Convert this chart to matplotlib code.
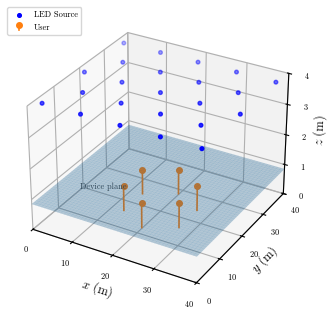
import numpy as np
import matplotlib
matplotlib.use('Agg')
import matplotlib.pyplot as plt
from matplotlib.legend_handler import HandlerBase
from matplotlib.lines import Line2D

plt.rcParams['font.family'] = 'serif'
plt.rcParams['font.serif'] = ['cmr10']
plt.rcParams['mathtext.fontset'] = 'cm'
plt.rcParams['axes.formatter.use_mathtext'] = True

# LED grid (staggered rows) near the ceiling
led_main_x = [1.2, 10.6, 20.0, 29.4, 38.8]
led_main_y = [36.3, 20.0, 3.7]
led_mid_x = [5.9, 15.3, 24.7, 34.1]
led_mid_y = [28.1, 11.9]
led_z = 3.9

# users on the device plane (hexagon around the room centre)
user_x = [26.9, 20.0, 13.1, 13.1, 20.0, 26.9]
user_y = [24.0, 28.0, 24.0, 16.0, 12.0, 16.0]
user_z = [0.85, 0.85, 0.85, 0.85, 0.85, 0.85]
plane_z = 0.85

room = [0, 40]
ticks_xy = [0, 10, 20, 30, 40]
ticks_z = [0, 1, 2, 3, 4]


class StemHandler(HandlerBase):
    """Legend entry: small marker sitting on a short stem."""
    def create_artists(self, legend, orig, xd, yd, w, h, fontsize, trans):
        cx = w / 2 - xd
        top = h * 0.75 - yd
        stem = Line2D([cx, cx], [-yd, top], color='C1', lw=1.2,
                      transform=trans)
        mark = Line2D([cx], [top], marker='o', ms=4, color='C1', ls='',
                      transform=trans)
        return [stem, mark]


mx, my = np.meshgrid(led_main_x, led_main_y)
sx, sy = np.meshgrid(led_mid_x, led_mid_y)
led_x = np.concatenate([mx.ravel(), sx.ravel()])
led_y = np.concatenate([my.ravel(), sy.ravel()])

fig = plt.figure(figsize=(3.33, 3.13), dpi=100)
ax = fig.add_axes([0.005, 0.038, 0.93, 0.93], projection='3d')

leds = ax.scatter(led_x, led_y, np.full(len(led_x), led_z), color='blue',
                  s=7, label='LED Source')
markers, stems, _ = ax.stem(user_x, user_y, user_z, bottom=0, linefmt='C1-',
                            markerfmt='C1o', basefmt=' ')
markers.set_markersize(4)
stems.set_linewidth(1.2)

gx, gy = np.meshgrid(np.linspace(*room, 50), np.linspace(*room, 50))
ax.plot_surface(gx, gy, np.full_like(gx, plane_z), color='C0', alpha=0.3,
                edgecolor=(0.12, 0.47, 0.71, 0.25), linewidth=0.08)
ax.text(5, 11, plane_z, 'Device plane', fontsize=6, color='0.25', va='center')

ax.set_xlim(*room)
ax.set_ylim(*room)
ax.set_zlim(ticks_z[0], ticks_z[-1])
ax.set_xticks(ticks_xy)
ax.set_yticks(ticks_xy)
ax.set_zticks(ticks_z)
ax.tick_params(labelsize=6, pad=0)
ax.set_xlabel('$x$ (m)', fontsize=9, labelpad=-4)
ax.set_ylabel('$y$ (m)', fontsize=9, labelpad=-6)
ax.set_zlabel('$z$ (m)', fontsize=9, labelpad=-6)

fig.legend([leds, markers], ['LED Source', 'User'], loc='upper left',
           fontsize=6, bbox_to_anchor=(0.01, 0.99),
           handler_map={markers: StemHandler()})
fig.savefig('out.png', dpi=100)
